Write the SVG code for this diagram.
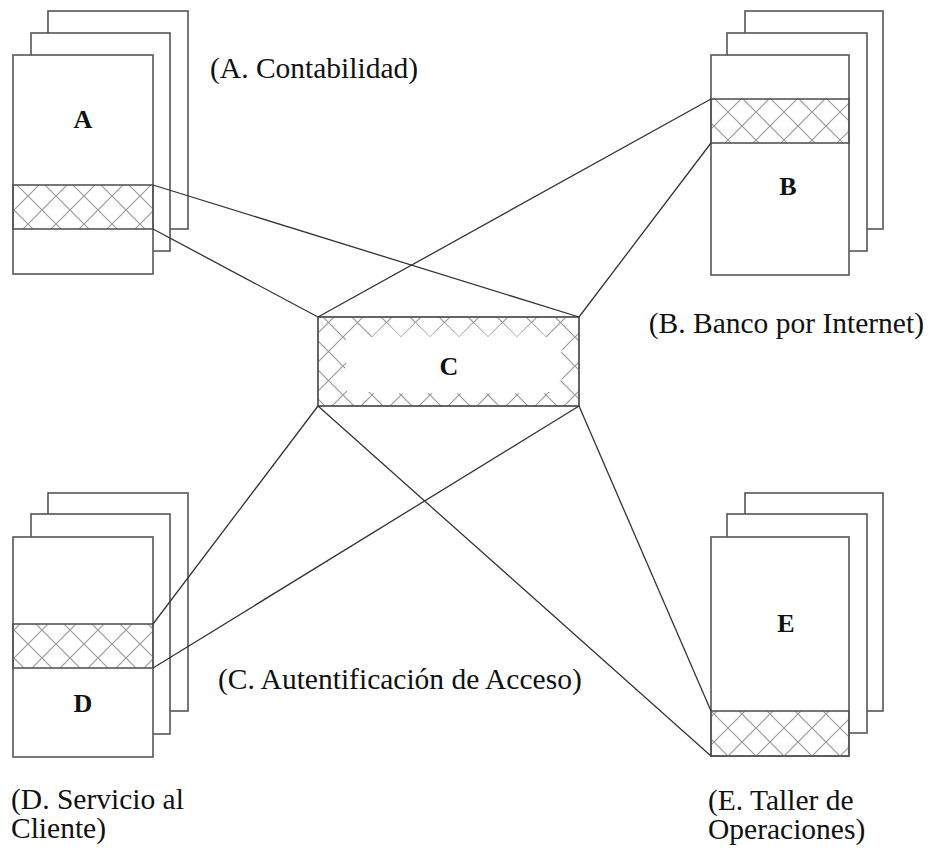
<svg xmlns="http://www.w3.org/2000/svg" width="929" height="848" viewBox="0 0 929 848">
<defs>
<pattern id="hatch" patternUnits="userSpaceOnUse" width="28" height="28">
<path d="M0,0 L28,28 M28,0 L0,28" stroke="#9a9a9a" stroke-width="1.2" fill="none"/>
</pattern>
<pattern id="hatchC" patternUnits="userSpaceOnUse" x="372" y="337" width="29" height="29">
<path d="M0,0 L29,29 M29,0 L0,29" stroke="#9a9a9a" stroke-width="1.2" fill="none"/>
</pattern>
<style>
.pg{fill:#fff;stroke:#555;stroke-width:1.6}
.hb{fill:url(#hatch);stroke:#555;stroke-width:1.6}
.lbl{font-family:"Liberation Serif","Times New Roman",serif;font-size:29.5px;fill:#111}
.big{font-family:"Liberation Serif","Times New Roman",serif;font-size:26px;font-weight:bold;fill:#111;text-anchor:middle}
.cn{stroke:#333;stroke-width:1.3;fill:none}
</style>
</defs>
<rect width="929" height="848" fill="#fff"/>

<g id="node-A">
<rect class="pg" x="48" y="11" width="140" height="218"/>
<rect class="pg" x="31" y="33" width="139" height="218"/>
<rect class="pg" x="13" y="55" width="140" height="219"/>
<rect class="hb" x="13" y="185" width="140" height="44"/>
<text class="big" x="83" y="128">A</text>
</g>

<g id="node-B">
<rect class="pg" x="745" y="11" width="138" height="218"/>
<rect class="pg" x="727" y="33" width="140" height="218"/>
<rect class="pg" x="711" y="55" width="138" height="220"/>
<rect class="hb" x="711" y="99" width="138" height="44"/>
<text class="big" x="788" y="195">B</text>
</g>

<g id="node-C">
<rect x="318" y="317" width="261" height="89" fill="url(#hatchC)" stroke="none"/>
<polygon fill="#fff" points="358,337 372,337 386.5,323 401,337 415.5,323 430,337 444.5,323 459,337 473.5,323 488,337 502.5,323 517,337 531.5,323 546,337 552,337 562,351 552,365 562,379 552,392 546,392 531.5,404 517,392 502.5,404 488,392 473.5,404 459,392 444.5,404 430,392 415.5,404 401,392 386.5,404 372,392 348,392 336,379 348,365 336,351 348,337"/>
<rect x="318" y="317" width="261" height="89" fill="none" stroke="#555" stroke-width="1.8"/>
<text class="big" x="449" y="375">C</text>
</g>

<g id="node-D">
<rect class="pg" x="48" y="493" width="140" height="218"/>
<rect class="pg" x="31" y="514" width="139" height="220"/>
<rect class="pg" x="13" y="537" width="140" height="220"/>
<rect class="hb" x="13" y="624" width="140" height="44"/>
<text class="big" x="83" y="712">D</text>
</g>

<g id="node-E">
<rect class="pg" x="745" y="493" width="138" height="218"/>
<rect class="pg" x="727" y="514" width="140" height="219"/>
<rect class="pg" x="711" y="537" width="138" height="219"/>
<rect class="hb" x="711" y="711" width="138" height="45"/>
<text class="big" x="786" y="632">E</text>
</g>

<g id="connectors">
<line class="cn" x1="153" y1="185" x2="579" y2="317"/>
<line class="cn" x1="153" y1="229" x2="318" y2="317"/>
<line class="cn" x1="711" y1="99" x2="318" y2="317"/>
<line class="cn" x1="711" y1="143" x2="579" y2="317"/>
<line class="cn" x1="153" y1="624" x2="318" y2="406"/>
<line class="cn" x1="153" y1="668" x2="579" y2="406"/>
<line class="cn" x1="711" y1="711" x2="579" y2="406"/>
<line class="cn" x1="711" y1="756" x2="318" y2="406"/>
</g>

<g id="labels">
<text class="lbl" x="210" y="78">(A. Contabilidad)</text>
<text class="lbl" x="924" y="333" text-anchor="end">(B. Banco por Internet)</text>
<text class="lbl" x="218" y="689">(C. Autentificación de Acceso)</text>
<text class="lbl" x="11" y="809">(D. Servicio al</text>
<text class="lbl" x="11" y="838">Cliente)</text>
<text class="lbl" x="708" y="810">(E. Taller de</text>
<text class="lbl" x="708" y="839">Operaciones)</text>
</g>
</svg>
